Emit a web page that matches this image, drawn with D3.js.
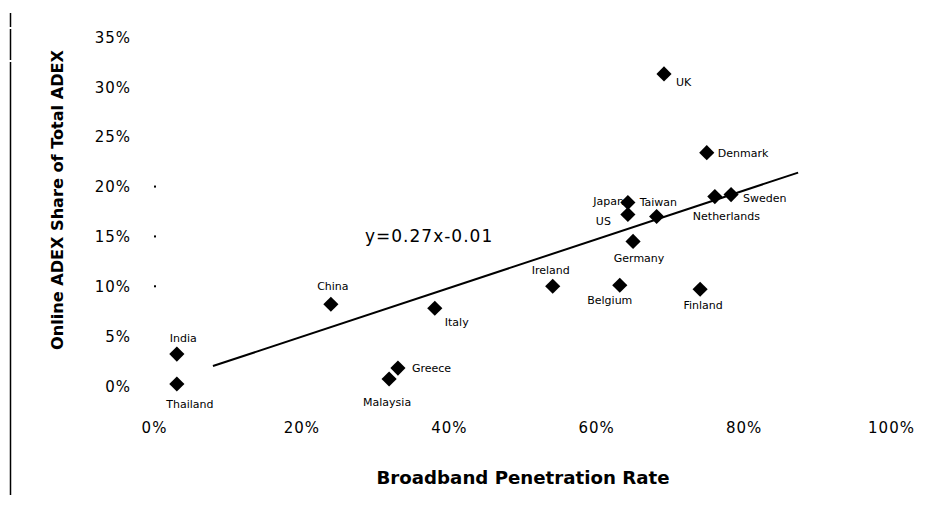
<!DOCTYPE html>
<html>
<head>
<meta charset="utf-8">
<script src="https://cdn.jsdelivr.net/npm/d3@7"></script>
<style>
  html, body { margin: 0; padding: 0; background: #fff; }
  svg { display: block; }
  text { fill: #000; }
</style>
</head>
<body>
<svg id="chart" width="933" height="508"></svg>
<script>
// ---- data ----
const countries = ["Thailand","India","China","Malaysia","Greece","Italy","Ireland","Belgium","Japan","US","Germany","Taiwan","UK","Finland","Denmark","Netherlands","Sweden"];
const broadband = [0.031,0.031,0.240,0.319,0.331,0.381,0.541,0.632,0.643,0.643,0.650,0.682,0.692,0.741,0.750,0.761,0.783];
const adexShare = [0.002,0.032,0.082,0.007,0.018,0.078,0.100,0.101,0.184,0.172,0.145,0.170,0.313,0.097,0.234,0.190,0.192];
const xTicks = [0,0.2,0.4,0.6,0.8,1.0];
const yTicks = [0,0.05,0.10,0.15,0.20,0.25,0.30,0.35];
const trendX = [0.080,0.874];
const trendY = [0.020,0.214];
const trendLabel = "y=0.27x-0.01";
const xTitle = "Broadband Penetration Rate";
const yTitle = "Online ADEX Share of Total ADEX";
const strayMarks = [0.10,0.15,0.20];

// label placement (anchor, dx, dy) per country
const labelPlace = {
  "Thailand":["middle",13,20], "India":["start",-7,-16], "China":["middle",2,-18],
  "Malaysia":["middle",-2,23], "Greece":["start",14,0], "Italy":["start",10,14],
  "Ireland":["middle",-2,-16], "Belgium":["middle",-10,15], "Japan":["end",-4,-1],
  "US":["end",-17,7], "Germany":["middle",6,17], "Taiwan":["start",-17,-14],
  "UK":["start",12,8], "Finland":["middle",3,16], "Denmark":["start",11,0],
  "Netherlands":["start",-22,20], "Sweden":["start",12,4]
};

const svg = d3.select("#chart");
const x = d3.scaleLinear().domain([0,1]).range([154,891]);
const y = d3.scaleLinear().domain([0,0.35]).range([386,37]);
const fmt = d3.format(".0%");
const tickFont = "DejaVu Sans, sans-serif";

// left border line (with small breaks as in the reference)
[[13,27],[29,60],[62,495]].forEach(s=>{
  svg.append("line").attr("x1",10.5).attr("x2",10.5).attr("y1",s[0]).attr("y2",s[1])
    .attr("stroke","#000").attr("stroke-width",1.5);
});

// x axis
const gx = svg.append("g").call(d3.axisBottom(x).tickValues(xTicks).tickFormat(fmt).tickSize(0));
gx.select(".domain").remove();
gx.selectAll("text").attr("y",428).attr("dy","0.35em")
  .style("font-family",tickFont).style("font-size","15px").style("letter-spacing","1px").attr("fill","#000");

// y axis
const gy = svg.append("g").call(d3.axisLeft(y).tickValues(yTicks).tickFormat(fmt).tickSize(0));
gy.select(".domain").remove();
gy.selectAll("text").attr("x",131).attr("dy","0.35em").attr("text-anchor","end")
  .style("font-family",tickFont).style("font-size","15px").style("letter-spacing","1px").attr("fill","#000");

// stray small marks
svg.selectAll("rect.stray").data(strayMarks).enter().append("rect")
  .attr("class","stray").attr("x",x(0)).attr("y",d=>y(d)-1).attr("width",2).attr("height",2).attr("fill","#000");

// trend line
svg.append("line")
  .attr("x1",x(trendX[0])).attr("y1",y(trendY[0]))
  .attr("x2",x(trendX[1])).attr("y2",y(trendY[1]))
  .attr("stroke","#000").attr("stroke-width",2);

svg.append("text").attr("x",365).attr("y",236).attr("dy","0.35em")
  .style("font-family",tickFont).style("font-size","17px").style("letter-spacing","1px")
  .text(trendLabel);

// points
const data = countries.map((c,i)=>({name:c, bx:broadband[i], ay:adexShare[i]}));
const diamond = d3.symbol().type(d3.symbolSquare).size(115);
svg.selectAll("path.pt").data(data).enter().append("path")
  .attr("class","pt")
  .attr("d",diamond)
  .attr("transform",d=>`translate(${x(d.bx)},${y(d.ay)}) rotate(45)`)
  .attr("fill","#000");

svg.selectAll("text.lbl").data(data).enter().append("text")
  .attr("class","lbl")
  .attr("x",d=>x(d.bx)+labelPlace[d.name][1])
  .attr("y",d=>y(d.ay)+labelPlace[d.name][2])
  .attr("dy","0.35em")
  .attr("text-anchor",d=>labelPlace[d.name][0])
  .style("font-family",tickFont).style("font-size","11px")
  .text(d=>d.name);

// axis titles
svg.append("text").attr("x",523).attr("y",478).attr("dy","0.35em").attr("text-anchor","middle")
  .style("font-family",tickFont).style("font-size","17px").style("font-weight","bold")
  .attr("textLength",293).attr("lengthAdjust","spacingAndGlyphs")
  .text(xTitle);
svg.append("text").attr("transform","translate(57,200) rotate(-90)").attr("dy","0.35em").attr("text-anchor","middle")
  .style("font-family",tickFont).style("font-size","16px").style("font-weight","bold")
  .attr("textLength",300).attr("lengthAdjust","spacingAndGlyphs")
  .text(yTitle);
</script>
</body>
</html>
